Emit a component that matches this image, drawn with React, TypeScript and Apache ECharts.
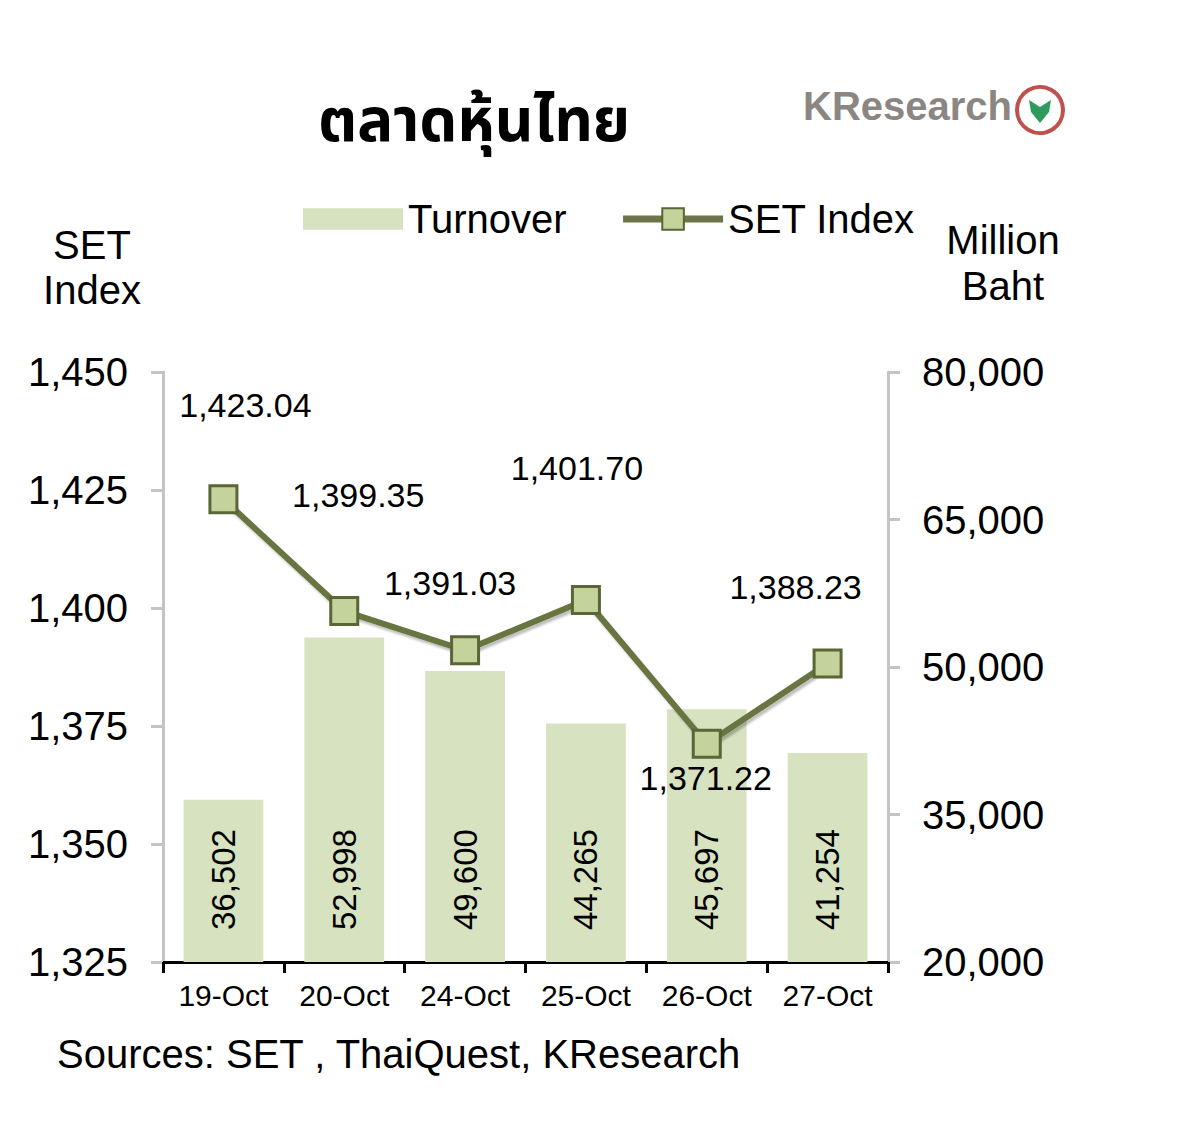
import React, { useEffect, useRef } from "react";
import * as echarts from "echarts";

const categories = ["19-Oct", "20-Oct", "24-Oct", "25-Oct", "26-Oct", "27-Oct"];
const turnover = [36502, 52998, 49600, 44265, 45697, 41254];
const setIndex = [1423.04, 1399.35, 1391.03, 1401.7, 1371.22, 1388.23];

const leftMin = 1325;
const leftMax = 1450;
const leftInterval = 25;
const rightMin = 20000;
const rightMax = 80000;
const rightInterval = 15000;

const titleText = "ตลาดหุ้นไทย";
const sourceText = "Sources: SET , ThaiQuest, KResearch";
const legendNames = ["Turnover", "SET Index"];

// label placement offsets (style only)
const lineLabelOffsets = [
  [22, -94],
  [14, -116],
  [-15, -67],
  [-9, -132],
  [-1, 34],
  [-32, -77],
];

const FONT = "'Liberation Sans', Arial, sans-serif";

export default function App() {
  const ref = useRef<HTMLDivElement>(null);

  useEffect(() => {
    document.body.style.margin = "0";
    const chart = echarts.init(ref.current!, null, { renderer: "svg" });
    const fmtInt = (v: number) => v.toLocaleString("en-US");
    const fmt2 = (v: number) =>
      v.toLocaleString("en-US", { minimumFractionDigits: 2, maximumFractionDigits: 2 });

    chart.setOption({
      animation: false,
      backgroundColor: "#ffffff",
      textStyle: { fontFamily: FONT },
      grid: { left: 163, right: 312, top: 372, bottom: 162, containLabel: false },
      legend: {
        data: [
          { name: legendNames[0], icon: "path://M0,0H97V21H0Z" },
          { name: legendNames[1], lineStyle: { width: 7, color: "#6b7546" } },
        ],
        left: 298,
        top: 194,
        itemWidth: 100,
        itemHeight: 27,
        itemGap: 53,
        symbolKeepAspect: true,
        textStyle: { fontSize: 40, color: "#000", fontFamily: FONT },
      },
      xAxis: {
        type: "category",
        data: categories,
        axisLine: { lineStyle: { color: "#000", width: 3 } },
        axisTick: { show: true, length: 11, lineStyle: { color: "#000", width: 3 } },
        axisLabel: { interval: 0, fontSize: 30, color: "#000", margin: 18, fontFamily: FONT },
      },
      yAxis: [
        {
          type: "value",
          min: leftMin,
          max: leftMax,
          interval: leftInterval,
          axisLine: { show: true, lineStyle: { color: "#c4c4c4", width: 3 } },
          axisTick: { show: true, length: 12, lineStyle: { color: "#c4c4c4", width: 3 } },
          splitLine: { show: false },
          axisLabel: { fontSize: 40, color: "#000", margin: 35, formatter: (v: number) => fmtInt(v), fontFamily: FONT },
        },
        {
          type: "value",
          min: rightMin,
          max: rightMax,
          interval: rightInterval,
          position: "right",
          axisLine: { show: true, lineStyle: { color: "#c4c4c4", width: 3 } },
          axisTick: { show: true, length: 12, lineStyle: { color: "#c4c4c4", width: 3 } },
          splitLine: { show: false },
          axisLabel: { fontSize: 40, color: "#000", margin: 34, formatter: (v: number) => fmtInt(v), fontFamily: FONT },
        },
      ],
      series: [
        {
          name: legendNames[0],
          type: "bar",
          yAxisIndex: 1,
          data: turnover,
          barWidth: "66%",
          itemStyle: { color: "#d6e2c0" },
          label: {
            show: true,
            position: "insideBottom",
            distance: 32,
            rotate: 90,
            align: "left",
            verticalAlign: "middle",
            fontSize: 33,
            color: "#000",
            fontFamily: FONT,
            formatter: (p: any) => fmtInt(p.value),
          },
          z: 1,
        },
        {
          name: legendNames[1],
          type: "line",
          yAxisIndex: 0,
          data: setIndex.map((v, i) => ({
            value: v,
            label: { offset: lineLabelOffsets[i] },
          })),
          symbol: "rect",
          symbolSize: 27,
          lineStyle: {
            color: "#67743f",
            width: 6,
            shadowColor: "rgba(0,0,0,0.25)",
            shadowBlur: 2,
            shadowOffsetX: 2,
            shadowOffsetY: 3,
          },
          itemStyle: { color: "#c3d39b", borderColor: "#5a6636", borderWidth: 3 },
          label: {
            show: true,
            position: "inside",
            align: "center",
            verticalAlign: "middle",
            fontSize: 34,
            color: "#000",
            fontFamily: FONT,
            formatter: (p: any) => fmt2(p.value),
          },
          z: 3,
        },
      ],
      graphic: [
        {
          type: "text",
          left: 318,
          top: 92,
          style: {
            text: titleText,
            fontSize: 60,
            fontWeight: "bold",
            fill: "#000",
            fontFamily: "'Noto Sans Thai', 'Noto Sans', 'DejaVu Sans', sans-serif",
          },
        },
        {
          type: "text",
          left: 803,
          top: 86,
          style: {
            text: "KResearch",
            fontSize: 40,
            fontWeight: "bold",
            fill: "#8b8682",
            fontFamily: FONT,
          },
        },
        {
          type: "circle",
          shape: { cx: 1040, cy: 110, r: 23 },
          style: { fill: "#ffffff", stroke: "#c0504d", lineWidth: 4 },
        },
        {
          type: "polygon",
          shape: {
            points: [
              [1029, 100],
              [1040, 107],
              [1051, 100],
              [1049, 112],
              [1040, 123],
              [1031, 112],
            ],
          },
          style: { fill: "#2f9a5e" },
        },
        {
          type: "text",
          x: 92,
          y: 222,
          style: {
            text: "SET\nIndex",
            fontSize: 40,
            lineHeight: 45,
            fill: "#000",
            align: "center",
            fontFamily: FONT,
          },
        },
        {
          type: "text",
          x: 1003,
          y: 217,
          style: {
            text: "Million\nBaht",
            fontSize: 40,
            lineHeight: 46,
            fill: "#000",
            align: "center",
            fontFamily: FONT,
          },
        },
        {
          type: "text",
          left: 57,
          top: 1034,
          style: {
            text: sourceText,
            fontSize: 40,
            fill: "#000",
            fontFamily: FONT,
          },
        },
      ],
    });
    return () => chart.dispose();
  }, []);

  return (
    <div
      ref={ref}
      style={{ position: "fixed", left: 0, top: 0, width: 1200, height: 1124 }}
    />
  );
}
